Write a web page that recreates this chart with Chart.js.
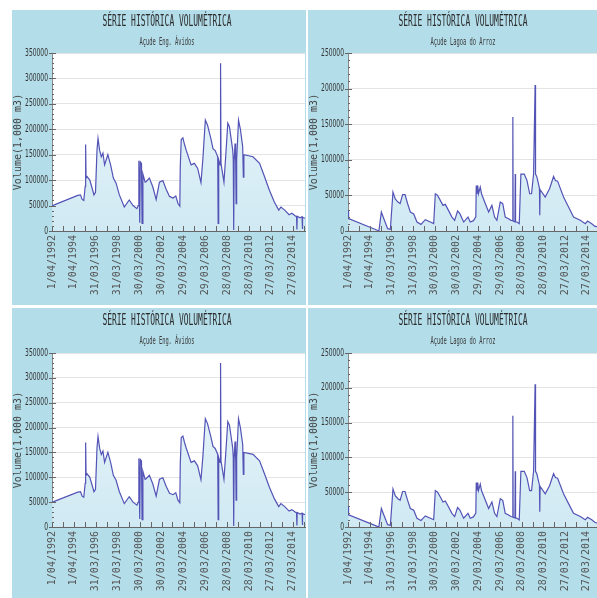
<!DOCTYPE html>
<html>
<head>
<meta charset="utf-8">
<script src="https://cdn.jsdelivr.net/npm/chart.js@4"></script>
<style>
  html, body { margin: 0; padding: 0; background: #ffffff; }
  body { position: relative; width: 597px; height: 598px; overflow: hidden; }
  .panel { position: absolute; background: #b3dde9; }
  .panel canvas { display: block; }
</style>
</head>
<body>
<div class="panel" style="left:12px;top:10px;width:294px;height:295px"><canvas id="avidosTop" width="294" height="295"></canvas></div>
<div class="panel" style="left:308px;top:10px;width:289px;height:295px"><canvas id="arrozTop" width="289" height="295"></canvas></div>
<div class="panel" style="left:12px;top:308px;width:294px;height:290px"><canvas id="avidosBottom" width="294" height="290"></canvas></div>
<div class="panel" style="left:308px;top:308px;width:289px;height:290px"><canvas id="arrozBottom" width="289" height="290"></canvas></div>

<script>
// Reservoir volume history (thousand m3) by decimal year.
const panelTitle = 'SÉRIE HISTÓRICA VOLUMÉTRICA';
const avidosName = 'Açude Eng. Ávidos';
const arrozName = 'Açude Lagoa do Arroz';
const axisTitle = 'Volume(1,000 m3)';

const dateLabels = ['1/04/1992', '1/04/1994', '31/03/1996', '31/03/1998', '30/03/2000', '30/03/2002',
  '29/03/2004', '29/03/2006', '28/03/2008', '28/03/2010', '27/03/2012', '27/03/2014'];

const avidosYears = [1992.25, 1992.40, 1994.60, 1994.85, 1995.00, 1995.15, 1995.28, 1995.32, 1995.36, 1995.45,
  1995.70, 1995.90, 1996.08, 1996.22, 1996.36, 1996.45, 1996.60, 1996.75, 1996.90, 1997.05,
  1997.35, 1997.60, 1997.85, 1998.10, 1998.40, 1998.85, 1999.30, 1999.65, 2000.00, 2000.12,
  2000.18, 2000.26, 2000.31, 2000.42, 2000.47, 2000.55, 2000.75, 2000.84, 2001.14, 2001.45,
  2001.76, 2002.06, 2002.37, 2002.67, 2002.98, 2003.30, 2003.55, 2003.75, 2003.92, 2003.96,
  2004.05, 2004.20, 2004.35, 2004.50, 2004.95, 2005.25, 2005.55, 2005.85, 2006.02, 2006.25,
  2006.45, 2006.75, 2006.95, 2007.15, 2007.38, 2007.42, 2007.47, 2007.60, 2007.64, 2007.68,
  2007.95, 2008.12, 2008.30, 2008.45, 2008.60, 2008.75, 2008.80, 2008.84, 2008.88, 2008.96,
  2009.02, 2009.06, 2009.11, 2009.28, 2009.45, 2009.66, 2009.72, 2009.77, 2010.60, 2011.20,
  2011.65, 2012.10, 2012.55, 2012.95, 2013.15, 2013.50, 2013.90, 2014.15, 2014.45, 2014.58,
  2014.61, 2014.64, 2014.90, 2015.08, 2015.11, 2015.14, 2015.35];
const avidosVolumes = [50000, 51000, 70000, 71000, 62000, 60000, 88000, 170000, 104000, 107000,
  100000, 85000, 71000, 76000, 160000, 182000, 158000, 146000, 153000, 130000,
  150000, 130000, 104000, 94000, 71000, 47000, 61000, 50000, 44000, 50000,
  138000, 16000, 136000, 133000, 15000, 112000, 96000, 97000, 104000, 87000,
  62000, 96000, 99000, 82000, 68000, 65000, 69000, 54000, 49000, 126000,
  180000, 183000, 170000, 159000, 130000, 133000, 123000, 95000, 140000, 218000,
  208000, 182000, 162000, 158000, 146000, 15000, 140000, 130000, 330000, 133000,
  96000, 150000, 212000, 205000, 182000, 159000, 140000, 2000, 136000, 172000,
  136000, 54000, 140000, 218000, 200000, 166000, 106000, 150000, 146000, 133000,
  107000, 80000, 57000, 41000, 47000, 41000, 32000, 35000, 30000, 28000,
  3000, 29000, 26000, 28000, 4000, 27000, 25000];

const arrozYears = [1992.25, 1992.28, 1992.32, 1994.95, 1995.10, 1995.32, 1995.55, 1995.90, 1996.15, 1996.39,
  1996.60, 1996.85, 1997.05, 1997.28, 1997.50, 1997.74, 1997.99, 1998.30, 1998.60, 1998.97,
  1999.37, 1999.83, 2000.14, 2000.29, 2000.50, 2000.75, 2001.00, 2001.21, 2001.50, 2001.82,
  2002.07, 2002.34, 2002.55, 2002.90, 2003.30, 2003.51, 2003.80, 2004.02, 2004.06, 2004.12,
  2004.20, 2004.26, 2004.43, 2004.55, 2004.90, 2005.20, 2005.50, 2005.75, 2005.96, 2006.27,
  2006.50, 2006.73, 2007.03, 2007.26, 2007.40, 2007.43, 2007.46, 2007.62, 2007.65, 2007.68,
  2007.81, 2008.02, 2008.17, 2008.48, 2008.73, 2008.98, 2009.15, 2009.34, 2009.48, 2009.52,
  2009.65, 2009.88, 2009.91, 2009.94, 2010.10, 2010.41, 2010.81, 2011.18, 2011.35, 2011.55,
  2012.10, 2012.56, 2013.02, 2013.64, 2014.10, 2014.31, 2014.70, 2015.00, 2015.18];
const arrozVolumes = [18000, 29000, 17500, 1000, 500, 26600, 17300, 3300, 2500, 54700,
  45000, 40600, 38500, 51000, 51000, 38300, 26600, 24000, 12600, 9300,
  15900, 12600, 10500, 52300, 50000, 43000, 36000, 37400, 29000, 19600,
  15000, 28000, 24300, 12600, 19600, 12600, 14500, 20000, 64000, 52000,
  64000, 52300, 61700, 52000, 38300, 26600, 36000, 19600, 15000, 40600,
  38300, 19600, 17300, 15000, 14500, 160000, 14000, 13000, 80000, 13000,
  12600, 10300, 80000, 80000, 71000, 52300, 52300, 80000, 205000, 80000,
  75700, 60000, 22000, 58000, 54700, 47700, 59300, 76600, 71000, 70000,
  47700, 33600, 19600, 15000, 10300, 14000, 10300, 6500, 6000];

// "d/mm/yyyy" -> decimal year
function labelToYear(label) {
  const [d, m, y] = label.split('/').map(Number);
  const start = Date.UTC(y, 0, 1), end = Date.UTC(y + 1, 0, 1);
  return y + (Date.UTC(y, m - 1, d) - start) / (end - start);
}
const tickYears = dateLabels.map(labelToYear);

const LINE_COLOR = '#5353b6';
const monoFont = '"DejaVu Sans Mono", monospace';

// White plotting area over the tinted panel
const plotBackground = {
  id: 'plotBackground',
  beforeDraw(chart) {
    const { ctx, chartArea: a } = chart;
    ctx.save();
    ctx.fillStyle = '#ffffff';
    ctx.fillRect(a.left, a.top, a.right - a.left, a.bottom - a.top);
    ctx.restore();
  }
};

// Horizontally condensed text helper
function condensedText(ctx, text, x, y, font, scaleX) {
  ctx.save();
  ctx.font = font;
  ctx.translate(x, y);
  ctx.scale(scaleX, 1);
  ctx.fillText(text, 0, 0);
  ctx.restore();
}

// Small tick marks pointing into the plot (yearly on x, every 10 000 on y)
// and narrow value labels beside the y axis
const axisDecor = {
  id: 'axisDecor',
  afterDraw(chart) {
    const { ctx, chartArea: a, scales: { x, y } } = chart;
    ctx.save();
    ctx.strokeStyle = '#666';
    ctx.lineWidth = 1;
    ctx.beginPath();
    for (let v = tickYears[0]; v <= x.max + 1e-6; v += 1) {
      const px = Math.round(x.getPixelForValue(v)) + 0.5;
      ctx.moveTo(px, a.bottom);
      ctx.lineTo(px, a.bottom - 5);
    }
    for (let v = 0; v <= y.max; v += 10000) {
      const py = Math.round(y.getPixelForValue(v)) + 0.5;
      const major = v % 50000 === 0;
      ctx.moveTo(a.left - (major ? 3 : 0), py);
      ctx.lineTo(a.left + (major ? 4 : 2), py);
    }
    ctx.stroke();

    ctx.fillStyle = '#333';
    ctx.textAlign = 'right';
    ctx.textBaseline = 'middle';
    y.ticks.forEach(t => {
      condensedText(ctx, String(t.value), a.left - 4, y.getPixelForValue(t.value), '10px "DejaVu Sans"', 0.6);
    });
    ctx.restore();
  }
};

// Heading and reservoir name at the top of each panel
const panelHeader = {
  id: 'panelHeader',
  afterDraw(chart, args, opts) {
    const ctx = chart.ctx;
    ctx.save();
    ctx.fillStyle = '#2a2a2a';
    ctx.textAlign = 'center';
    ctx.textBaseline = 'middle';
    condensedText(ctx, opts.title, opts.x, opts.titleY, '15px ' + monoFont, 0.53);
    ctx.fillStyle = '#3a3a3a';
    condensedText(ctx, opts.subtitle, opts.x, opts.subtitleY, '11px ' + monoFont, 0.49);
    ctx.restore();
  }
};

function areaFill(chart) {
  const a = chart.chartArea;
  if (!a) return 'rgba(210,234,243,0.9)';
  const g = chart.ctx.createLinearGradient(0, a.bottom, 0, a.top);
  g.addColorStop(0, 'rgba(205,232,242,0.95)');
  g.addColorStop(1, 'rgba(236,247,251,0.9)');
  return g;
}

function buildChart(id, years, volumes, yMax, subtitle, geo) {
  const points = years.map((x, i) => ({ x, y: volumes[i] }));
  return new Chart(document.getElementById(id), {
    type: 'line',
    data: {
      datasets: [{
        data: points,
        borderColor: LINE_COLOR,
        borderWidth: 1.2,
        pointRadius: 0,
        tension: 0,
        fill: 'origin',
        backgroundColor: ctx => areaFill(ctx.chart)
      }]
    },
    options: {
      responsive: false,
      animation: false,
      events: [],
      layout: { padding: { top: geo.plotTop, right: geo.right, left: 0, bottom: 0 } },
      plugins: {
        legend: { display: false },
        tooltip: { enabled: false },
        panelHeader: { title: panelTitle, subtitle, x: 155, titleY: geo.titleY, subtitleY: geo.subtitleY }
      },
      scales: {
        x: {
          type: 'linear',
          min: tickYears[0],
          max: geo.xMax,
          grid: { display: false, drawTicks: false },
          border: { display: true, color: '#666' },
          afterBuildTicks: axis => { axis.ticks = tickYears.map(v => ({ value: v })); },
          afterFit: s => { s.height = geo.xAxisHeight; s.paddingLeft = 0; s.paddingRight = 0; },
          ticks: {
            autoSkip: false,
            minRotation: 90,
            maxRotation: 90,
            padding: 4,
            color: '#555',
            font: { family: monoFont, size: 10 },
            callback: (v, i) => dateLabels[i]
          }
        },
        y: {
          min: 0,
          max: yMax,
          afterFit: s => { s.width = 40; s.paddingTop = 0; s.paddingBottom = 0; },
          grid: { color: '#e4e4e4', drawTicks: false },
          border: { color: '#888' },
          ticks: { display: false, stepSize: 50000 },
          title: {
            display: true,
            text: axisTitle,
            color: '#444',
            padding: 0,
            font: { family: monoFont, size: 10 }
          }
        }
      }
    },
    plugins: [plotBackground, axisDecor, panelHeader]
  });
}

const topGeo = { plotTop: 43, xAxisHeight: 74, titleY: 12, subtitleY: 32 };
const bottomGeo = { plotTop: 45, xAxisHeight: 71, titleY: 13, subtitleY: 33 };

buildChart('avidosTop', avidosYears, avidosVolumes, 350000, avidosName, { ...topGeo, right: 1, xMax: 2015.35 });
buildChart('arrozTop', arrozYears, arrozVolumes, 250000, arrozName, { ...topGeo, right: 0, xMax: 2015.18 });
buildChart('avidosBottom', avidosYears, avidosVolumes, 350000, avidosName, { ...bottomGeo, right: 1, xMax: 2015.35 });
buildChart('arrozBottom', arrozYears, arrozVolumes, 250000, arrozName, { ...bottomGeo, right: 0, xMax: 2015.18 });
</script>
</body>
</html>
